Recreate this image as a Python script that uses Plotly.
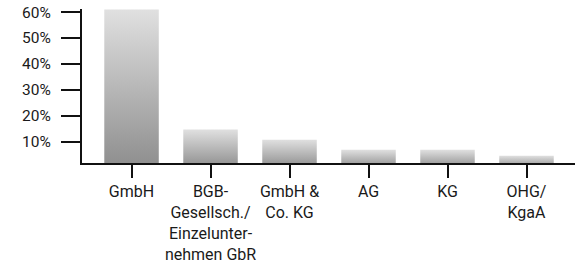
import plotly.graph_objects as go

categories = ["GmbH", "BGB-<br>Gesellsch./<br>Einzelunter-<br>nehmen GbR", "GmbH &<br>Co. KG", "AG", "KG", "OHG/<br>KgaA"]
shares = [61.0, 14.6, 10.7, 6.8, 6.8, 4.5]
y_ticks = [10, 20, 30, 40, 50, 60]

bar_half = 0.345
fig = go.Figure()
for i, v in enumerate(shares):
    fig.add_trace(go.Scatter(
        x=[i - bar_half, i - bar_half, i + bar_half, i + bar_half, i - bar_half],
        y=[0, v, v, 0, 0],
        mode="lines", line=dict(width=0), fill="toself",
        fillgradient=dict(type="vertical",
                          colorscale=[[0, "#8e8e8e"], [1, "#e0e0e0"]]),
        hoverinfo="skip", showlegend=False,
    ))

font_family = "Roboto, Liberation Sans, sans-serif"
fig.update_layout(
    template="none",
    width=579, height=261,
    margin=dict(l=82, r=4, t=9, b=98, autoexpand=False),
    paper_bgcolor="white", plot_bgcolor="white",
    font=dict(family=font_family, size=16, color="#1a1a1a"),
    xaxis=dict(range=[-0.627, 5.614], tickvals=list(range(len(categories))), ticktext=categories,
               tickangle=0, automargin=False,
               showgrid=False, zeroline=False, showline=True, linecolor="#111", linewidth=2,
               ticks="outside", ticklen=13, tickwidth=2, tickcolor="#111", ticklabelstandoff=0),
    yaxis=dict(range=[1.7, 61.2], tickvals=y_ticks, ticktext=[f"{t}%" for t in y_ticks],
               automargin=False, tickfont=dict(size=15.5),
               showgrid=False, zeroline=False, showline=True, linecolor="#111", linewidth=2,
               ticks="outside", ticklen=19, tickwidth=2, tickcolor="#111", ticklabelstandoff=7),
)
fig.write_html("out.html", config={"displayModeBar": False},
               post_script="document.body.style.margin='0';")
